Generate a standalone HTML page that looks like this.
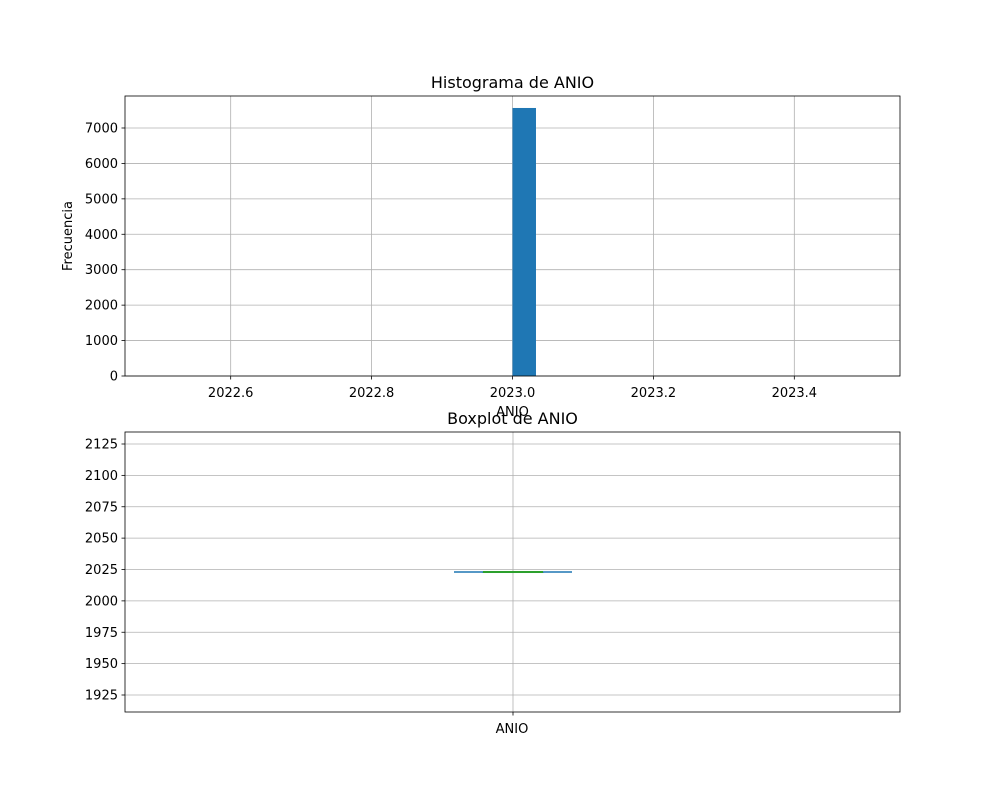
<!DOCTYPE html>
<html><head><meta charset="utf-8"><style>
body{margin:0;background:#fff;font-family:"Liberation Sans","DejaVu Sans",sans-serif}
</style></head><body>
<svg width="1000" height="800" xmlns="http://www.w3.org/2000/svg" font-family="DejaVu Sans, Liberation Sans, sans-serif">
<rect width="1000" height="800" fill="#fff"/>
<g id="hist"></g>
<g id="box"></g>
</svg>
<script>
const histXTicks=[2022.6,2022.8,2023.0,2023.2,2023.4];
const histYTicks=[0,1000,2000,3000,4000,5000,6000,7000];
const binStarts=[2023.0];
const binCounts=[7565];
const binWidth=1/30;
const boxYTicks=[1925,1950,1975,2000,2025,2050,2075,2100,2125];
const boxStats={min:2023,q1:2023,median:2023,q3:2023,max:2023};
const NS='http://www.w3.org/2000/svg';
function mk(p,t,a,txt){const e=document.createElementNS(NS,t);for(const k in a)e.setAttribute(k,a[k]);if(txt!==undefined)e.textContent=txt;p.appendChild(e);return e;}
// histogram
const H=document.getElementById('hist');
const L=125,R=900,T1=96,B1=376;
const hx=v=>L+(v-2022.45)/(1.1)*(R-L);
const hy=v=>B1-v/7903*(B1-T1);
histXTicks.forEach(t=>{const g=mk(H,'g',{});
mk(g,'line',{x1:hx(t),x2:hx(t),y1:T1,y2:B1,stroke:'#b0b0b0','stroke-width':0.8});
mk(g,'line',{x1:hx(t),x2:hx(t),y1:B1,y2:B1+3.5,stroke:'#000','stroke-width':0.8});
mk(g,'text',{x:hx(t),y:B1+21,'font-size':13,'text-anchor':'middle'},t.toFixed(1));});
histYTicks.forEach(t=>{const g=mk(H,'g',{});
mk(g,'line',{x1:L,x2:R,y1:hy(t),y2:hy(t),stroke:'#b0b0b0','stroke-width':0.8});
mk(g,'line',{x1:L-3.5,x2:L,y1:hy(t),y2:hy(t),stroke:'#000','stroke-width':0.8});
mk(g,'text',{x:L-7,y:hy(t)+4.5,'font-size':13,'text-anchor':'end'},String(t));});
binStarts.forEach((s,i)=>{const r=mk(H,'rect',{x:hx(s),y:hy(binCounts[i]),width:hx(s+binWidth)-hx(s),height:B1-hy(binCounts[i]),fill:'#1f77b4'});
});
mk(H,'rect',{x:L,y:T1,width:R-L,height:B1-T1,fill:'none',stroke:'#000','stroke-width':0.8});
let e=mk(H,'text',{x:512.5,y:88,'font-size':16,'text-anchor':'middle'},'Histograma de ANIO');
e=mk(H,'text',{x:512.5,y:416,'font-size':13,'text-anchor':'middle'},'ANIO');
e=mk(H,'text',{x:72,y:236,'font-size':13,'text-anchor':'middle',transform:'rotate(-90 72 236)'},'Frecuencia');
// boxplot
const BX=document.getElementById('box');
const T2=432,B2=712;
const by=v=>695-(v-1925)/200*(695-444);
boxYTicks.forEach(t=>{const g=mk(BX,'g',{});
mk(g,'line',{x1:L,x2:R,y1:by(t),y2:by(t),stroke:'#b0b0b0','stroke-width':0.8});
mk(g,'line',{x1:L-3.5,x2:L,y1:by(t),y2:by(t),stroke:'#000','stroke-width':0.8});
mk(g,'text',{x:L-7,y:by(t)+4.5,'font-size':13,'text-anchor':'end'},String(t));});
mk(BX,'line',{x1:513,x2:513,y1:T2,y2:B2,stroke:'#b0b0b0','stroke-width':0.8});
mk(BX,'line',{x1:513,x2:513,y1:B2,y2:B2+3.5,stroke:'#000','stroke-width':0.8});
e=mk(BX,'text',{x:512,y:733,'font-size':13,'text-anchor':'middle'},'ANIO');
const bg=mk(BX,'g',{});
mk(bg,'line',{x1:454,x2:572,y1:by(boxStats.min),y2:by(boxStats.max),stroke:'#1f77b4','stroke-width':1.5});
mk(bg,'rect',{x:483,y:by(boxStats.q3),width:60,height:Math.max(0.5,by(boxStats.q1)-by(boxStats.q3)),fill:'none',stroke:'#1f77b4','stroke-width':1});
mk(bg,'line',{x1:483,x2:543,y1:by(boxStats.median),y2:by(boxStats.median),stroke:'#2ca02c','stroke-width':2});
mk(BX,'rect',{x:L,y:T2,width:R-L,height:B2-T2,fill:'none',stroke:'#000','stroke-width':0.8});
e=mk(BX,'text',{x:512.5,y:424,'font-size':16,'text-anchor':'middle'},'Boxplot de ANIO');
</script>
</body></html>
